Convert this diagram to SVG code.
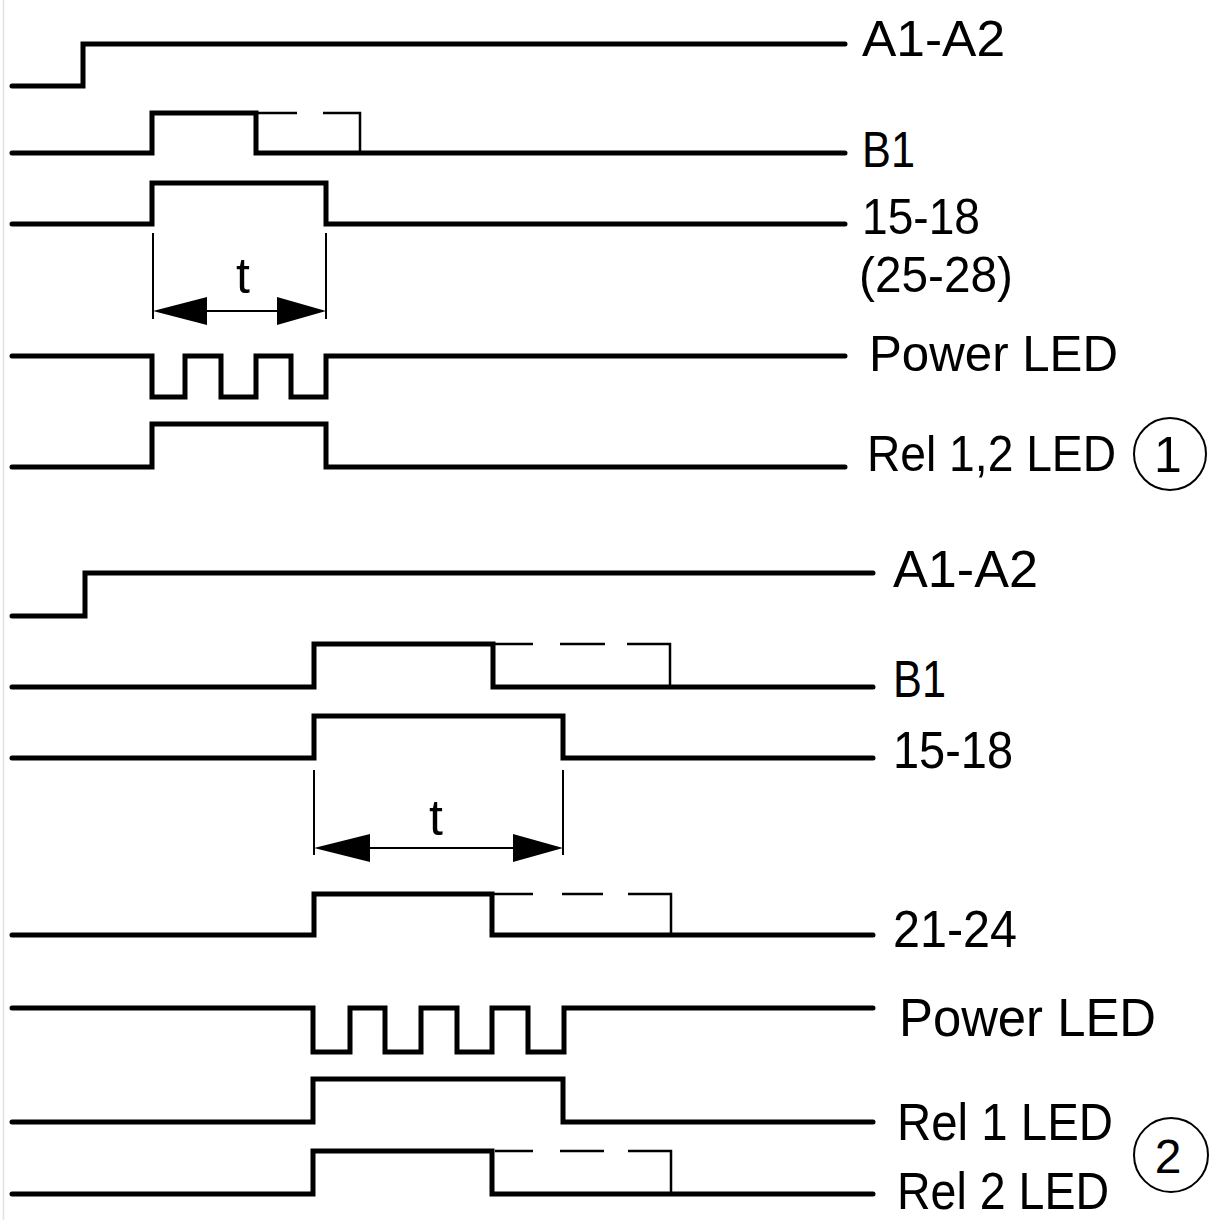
<svg xmlns="http://www.w3.org/2000/svg" width="1211" height="1220" viewBox="0 0 1211 1220">
<style>
.bg{fill:#fff}
.sig{fill:none;stroke:#000;stroke-width:5;stroke-linecap:round;stroke-linejoin:miter}
.thin{fill:none;stroke:#000;stroke-width:2.5;stroke-linecap:butt}
.dim{fill:none;stroke:#000;stroke-width:2}
.head{fill:#000;stroke:none}
.lbl{font-family:"Liberation Sans",Arial,sans-serif;fill:#000}
.ring{fill:none;stroke:#000;stroke-width:2}
.edge{stroke:#e2e2e2;stroke-width:1.5}
</style>
<rect class="bg" x="0" y="0" width="1211" height="1220"/>
<line class="edge" x1="3.5" y1="0" x2="3.5" y2="1220"/>

<g id="top-a1a2">
<path class="sig" d="M12,86 H83 V44 H845"/>
<text class="lbl" x="862" y="56" font-size="50" textLength="143" lengthAdjust="spacingAndGlyphs">A1-A2</text>
</g>
<g id="top-b1">
<path class="sig" d="M12,153 H152 V113 H256 V153 H845"/>
<path class="thin" d="M256,113 H297 M323,113 H360 V153"/>
<text class="lbl" x="862" y="167" font-size="50" textLength="53" lengthAdjust="spacingAndGlyphs">B1</text>
</g>
<g id="top-1518">
<path class="sig" d="M12,224 H152 V183 H326 V224 H845"/>
<text class="lbl" x="862" y="234" font-size="50" textLength="118" lengthAdjust="spacingAndGlyphs">15-18</text>
<text class="lbl" x="859" y="292" font-size="50" textLength="154" lengthAdjust="spacingAndGlyphs">(25-28)</text>
</g>
<g id="top-power">
<path class="sig" d="M12,356 H152 V397 H185 V356 H221 V397 H256 V356 H291 V397 H326 V356 H845"/>
<text class="lbl" x="869" y="371" font-size="50" textLength="249" lengthAdjust="spacingAndGlyphs">Power LED</text>
</g>
<g id="top-rel12">
<path class="sig" d="M12,467 H152 V424 H326 V467 H845"/>
<text class="lbl" x="867" y="471" font-size="50" textLength="249" lengthAdjust="spacingAndGlyphs">Rel 1,2 LED</text>
</g>
<g id="mark-1">
<circle class="ring" cx="1170" cy="454" r="36"/>
<text class="lbl" x="1168" y="472" font-size="50" text-anchor="middle">1</text>
</g>

<g id="bot-a1a2">
<path class="sig" d="M12,616 H85 V573 H873"/>
<text class="lbl" x="893" y="587" font-size="52" textLength="145" lengthAdjust="spacingAndGlyphs">A1-A2</text>
</g>
<g id="bot-b1">
<path class="sig" d="M12,687 H314 V644 H493 V687 H873"/>
<path class="thin" d="M493,644 H533 M560,644 H605 M627,644 H670 V687"/>
<text class="lbl" x="893" y="697" font-size="52" textLength="53" lengthAdjust="spacingAndGlyphs">B1</text>
</g>
<g id="bot-1518">
<path class="sig" d="M12,758 H314 V716 H563 V758 H873"/>
<text class="lbl" x="893" y="768" font-size="52" textLength="120" lengthAdjust="spacingAndGlyphs">15-18</text>
</g>
<g id="bot-2124">
<path class="sig" d="M12,935 H314 V894 H492 V935 H873"/>
<path class="thin" d="M492,894 H533 M562,894 H603 M628,894 H671 V935"/>
<text class="lbl" x="893" y="947" font-size="52" textLength="124" lengthAdjust="spacingAndGlyphs">21-24</text>
</g>
<g id="bot-power">
<path class="sig" d="M12,1008 H313 V1052 H350 V1008 H385 V1052 H421 V1008 H457 V1052 H492 V1008 H528 V1052 H564 V1008 H873"/>
<text class="lbl" x="899" y="1036" font-size="54" textLength="257" lengthAdjust="spacingAndGlyphs">Power LED</text>
</g>
<g id="bot-rel1">
<path class="sig" d="M12,1122 H313 V1079 H563 V1122 H873"/>
<text class="lbl" x="897" y="1140" font-size="52" textLength="216" lengthAdjust="spacingAndGlyphs">Rel 1 LED</text>
</g>
<g id="bot-rel2">
<path class="sig" d="M12,1194 H313 V1151 H492 V1194 H873"/>
<path class="thin" d="M495,1151 H533 M560,1151 H604 M628,1151 H671 V1194"/>
<text class="lbl" x="897" y="1209" font-size="52" textLength="212" lengthAdjust="spacingAndGlyphs">Rel 2 LED</text>
</g>
<g id="mark-2">
<ellipse class="ring" cx="1171" cy="1155" rx="37" ry="37"/>
<text class="lbl" x="1168" y="1173" font-size="48" text-anchor="middle">2</text>
</g>

<g id="connectors">
<path class="dim" d="M153,233 V319 M326,233 V319 M160,311 H320"/>
<polygon class="head" points="153,311 207,297 207,325"/>
<polygon class="head" points="326,311 277,297 277,325"/>
<text class="lbl" x="243" y="293" font-size="50" text-anchor="middle">t</text>
<path class="dim" d="M314,770 V855 M563,770 V855 M320,848 H557"/>
<polygon class="head" points="314,848 370,834 370,862"/>
<polygon class="head" points="563,848 513,834 513,862"/>
<text class="lbl" x="436" y="835" font-size="50" text-anchor="middle">t</text>
</g>
</svg>
